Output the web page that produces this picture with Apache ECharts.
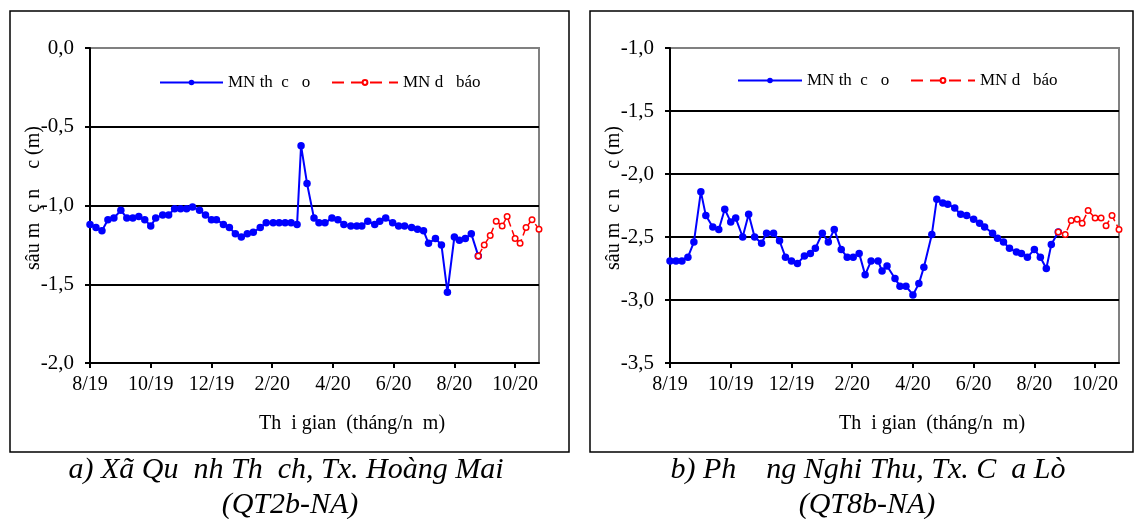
<!DOCTYPE html>
<html>
<head>
<meta charset="utf-8">
<script src="https://cdn.jsdelivr.net/npm/echarts@6/dist/echarts.min.js"></script>
<style>
html,body{margin:0;padding:0;background:#fff;}
#chart{width:1135px;height:519px;}
</style>
</head>
<body>
<div id="chart"></div>
<script>
// x values: days since 2019-08-01
var tickLabels = ['8/19','10/19','12/19','2/20','4/20','6/20','8/20','10/20'];
var tickDays = [0,61,122,183,244,305,366,427];

var nameObs = 'MN th  c   o';
var nameFc = 'MN d   báo';

// Panel a) QT2b-NA
var leftObsDays = [0,6,12,18,24,31,37,43,49,55,61,66,73,79,85,91,97,103,110,116,122,127,134,140,146,152,158,164,171,177,184,190,196,202,208,212,218,225,230,236,243,249,255,262,268,273,279,286,291,297,304,310,316,323,329,335,340,347,353,359,366,371,377,383,390];
var leftObsVals = [-1.12,-1.14,-1.16,-1.09,-1.08,-1.03,-1.08,-1.08,-1.07,-1.09,-1.13,-1.08,-1.06,-1.06,-1.02,-1.02,-1.02,-1.01,-1.03,-1.06,-1.09,-1.09,-1.12,-1.14,-1.18,-1.20,-1.18,-1.17,-1.14,-1.11,-1.11,-1.11,-1.11,-1.11,-1.12,-0.62,-0.86,-1.08,-1.11,-1.11,-1.08,-1.09,-1.12,-1.13,-1.13,-1.13,-1.10,-1.12,-1.10,-1.08,-1.11,-1.13,-1.13,-1.14,-1.15,-1.16,-1.24,-1.21,-1.25,-1.55,-1.20,-1.22,-1.21,-1.18,-1.32];
var leftFcDays = [390,396,402,408,414,419,427,432,438,444,451];
var leftFcVals = [-1.32,-1.25,-1.19,-1.10,-1.13,-1.07,-1.21,-1.24,-1.14,-1.09,-1.15];

// Panel b) QT8b-NA
var rightObsDays = [0,6,12,18,24,31,36,43,49,55,61,66,73,79,85,92,97,104,110,116,122,128,135,141,146,153,159,165,172,178,184,190,196,202,209,213,218,226,231,237,244,250,255,263,268,274,279,286,292,298,305,311,316,324,329,335,341,348,353,359,366,372,378,383,390];
var rightObsVals = [-2.69,-2.69,-2.69,-2.66,-2.54,-2.14,-2.33,-2.42,-2.44,-2.28,-2.38,-2.35,-2.50,-2.32,-2.50,-2.55,-2.47,-2.47,-2.53,-2.66,-2.69,-2.71,-2.65,-2.63,-2.59,-2.47,-2.54,-2.44,-2.60,-2.66,-2.66,-2.63,-2.80,-2.69,-2.69,-2.77,-2.73,-2.83,-2.89,-2.89,-2.96,-2.87,-2.74,-2.48,-2.20,-2.23,-2.24,-2.27,-2.32,-2.33,-2.36,-2.39,-2.42,-2.47,-2.51,-2.54,-2.59,-2.62,-2.63,-2.66,-2.60,-2.66,-2.75,-2.56,-2.46];
var rightFcDays = [390,397,403,409,414,420,427,433,438,444,451];
var rightFcVals = [-2.46,-2.48,-2.37,-2.36,-2.39,-2.29,-2.35,-2.35,-2.41,-2.33,-2.44];

function zip(xs, ys){ return xs.map(function(x,i){ return [x, ys[i]]; }); }

var FONT = 'Liberation Serif';
var BLUE = '#0000FF', RED = '#FF0000';

function xAxisCfg(gi){
  return {
    type:'value', gridIndex:gi, min:0, max:451, interval:61,
    axisLine:{show:true, onZero:false, lineStyle:{color:'#000', width:2}},
    axisTick:{show:true, inside:false, length:5, lineStyle:{color:'#000', width:2}, customValues:tickDays},
    axisLabel:{show:true, margin:12, color:'#000', fontFamily:FONT, fontSize:20, customValues:tickDays,
      formatter:function(v){ var i = tickDays.indexOf(Math.round(v)); return i>=0 ? tickLabels[i] : ''; }},
    splitLine:{show:false}
  };
}
function yAxisCfg(gi, mn, mx){
  return {
    type:'value', gridIndex:gi, min:mn, max:mx, interval:0.5,
    axisLine:{show:true, onZero:false, lineStyle:{color:'#000', width:2}},
    axisTick:{show:true, inside:false, length:5, lineStyle:{color:'#000', width:2}},
    axisLabel:{margin:16, color:'#000', fontFamily:FONT, fontSize:21,
      formatter:function(v){ return v.toFixed(1).replace('.', ','); }},
    splitLine:{show:true, showMinLine:false, showMaxLine:false, lineStyle:{color:'#000', width:2}}
  };
}
function obsSeries(idx, data){
  return {type:'line', name:nameObs, xAxisIndex:idx, yAxisIndex:idx, data:data,
    symbol:'circle', symbolSize:7.5, showAllSymbol:true, animation:false,
    lineStyle:{color:BLUE, width:2}, itemStyle:{color:BLUE}, z:3};
}
function fcSeries(idx, data){
  return {type:'line', name:nameFc, xAxisIndex:idx, yAxisIndex:idx, data:data,
    symbol:'circle', symbolSize:5.5, showAllSymbol:true, animation:false,
    lineStyle:{color:RED, width:1.5, type:[8,4]}, itemStyle:{color:'#fff', borderColor:RED, borderWidth:1.5}, z:4};
}
function legendCfg(left, top, name, w, h, ls){
  return {left:left, top:top, padding:0, data:[name], itemWidth:w, itemHeight:h, selectedMode:false,
    lineStyle:ls,
    textStyle:{fontFamily:FONT, fontSize:17, color:'#000'}};
}
function txt(x, y, s, font, rot){
  return {type:'text', x:x, y:y, rotation:rot||0, silent:true,
    style:{text:s, x:0, y:0, font:font, fill:'#000', textAlign:'center', textVerticalAlign:'middle'}};
}

var blueLegendLine = {width:2, color:BLUE};
var redLegendLine = {width:2, color:RED, type:[12,7]};

var chart = echarts.init(document.getElementById('chart'), null, {renderer:'canvas'});
chart.setOption({
  backgroundColor:'#fff',
  animation:false,
  grid:[
    {left:90, top:48, width:449, height:315, show:true, borderColor:'#808080', borderWidth:2, backgroundColor:'transparent'},
    {left:670, top:48, width:449, height:315, show:true, borderColor:'#808080', borderWidth:2, backgroundColor:'transparent'}
  ],
  xAxis:[xAxisCfg(0), xAxisCfg(1)],
  yAxis:[yAxisCfg(0,-2,0), yAxisCfg(1,-3.5,-1)],
  legend:[
    legendCfg(159, 74, nameObs, 63, 7, blueLegendLine),
    legendCfg(331, 74, nameFc, 66, 6, redLegendLine),
    legendCfg(737, 72, nameObs, 64, 7, blueLegendLine),
    legendCfg(910, 72, nameFc, 64, 6, redLegendLine)
  ],
  series:[
    obsSeries(0, zip(leftObsDays, leftObsVals)),
    fcSeries(0, zip(leftFcDays, leftFcVals)),
    obsSeries(1, zip(rightObsDays, rightObsVals)),
    fcSeries(1, zip(rightFcDays, rightFcVals))
  ],
  graphic:[
    {type:'rect', silent:true, shape:{x:10, y:11, width:559, height:441}, style:{fill:'none', stroke:'#000', lineWidth:1.5}},
    {type:'rect', silent:true, shape:{x:590, y:11, width:543, height:441}, style:{fill:'none', stroke:'#000', lineWidth:1.5}},
    txt(34, 198, 'sâu m  ç n    c (m)', '20px "Liberation Serif"', Math.PI/2),
    txt(614, 198, 'sâu m  c n    c (m)', '20px "Liberation Serif"', Math.PI/2),
    txt(352, 424, 'Th  i gian  (tháng/n  m)', '20px "Liberation Serif"'),
    txt(932, 424, 'Th  i gian  (tháng/n  m)', '20px "Liberation Serif"'),
    txt(286, 470, 'a) Xã Qu  nh Th  ch, Tx. Hoàng Mai', 'italic 30px "Liberation Serif"'),
    txt(290, 505, '(QT2b-NA)', 'italic 30px "Liberation Serif"'),
    txt(868, 470, 'b) Ph    ng Nghi Thu, Tx. C  a Lò', 'italic 30px "Liberation Serif"'),
    txt(867, 505, '(QT8b-NA)', 'italic 30px "Liberation Serif"')
  ]
});
</script>
</body>
</html>
